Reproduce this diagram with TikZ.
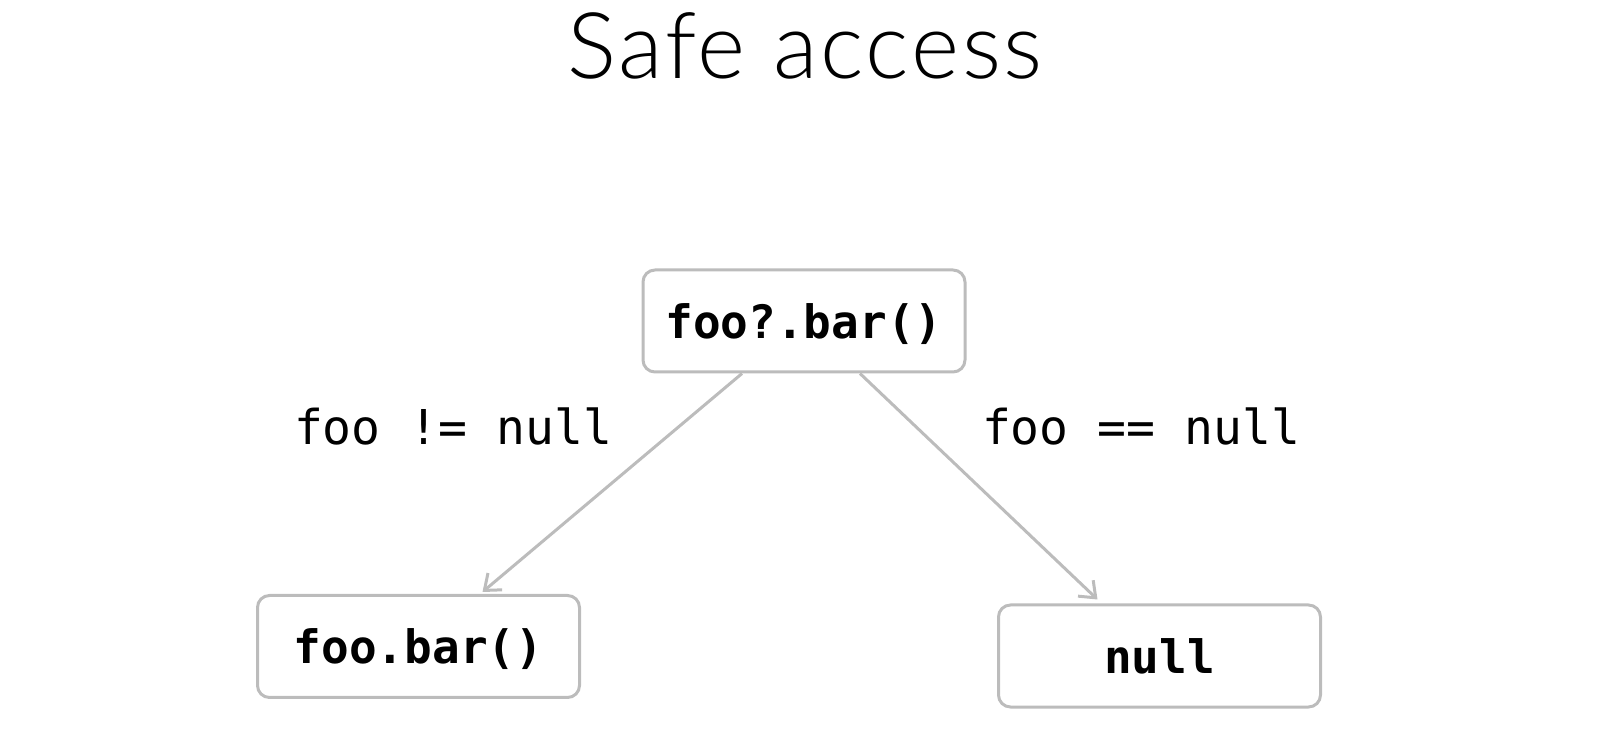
\documentclass[tikz,border=0pt]{standalone}
\usepackage{fontspec}
\setmainfont{Liberation Sans}
\setmonofont{DejaVu Sans Mono}
\newfontfamily\titlefont{Lato Light}[LetterSpace=3]
\usetikzlibrary{arrows.meta}
\definecolor{linegray}{RGB}{188,188,188}
\begin{document}
\begin{tikzpicture}[x=0.5pt,y=-0.5pt,
  codebox/.style={draw=linegray, line width=1.5pt, rounded corners=6pt,
    minimum width=161pt, minimum height=51pt, inner sep=0pt,
    font=\ttfamily\bfseries\fontsize{23}{26}\selectfont},
  lowtext/.style={text height=20.5pt, text depth=3pt},
  cond/.style={inner sep=0pt, font=\ttfamily\fontsize{24}{28}\selectfont},
  arr/.style={draw=linegray, line width=1.5pt, -{Straight Barb[length=7pt,width=11pt,line width=1.5pt]}}]
\path[use as bounding box] (0,0) rectangle (1612,742);
\node[anchor=base, font=\titlefont\fontsize{46}{50}\selectfont] (title) at (805,79) {Safe access};
\node[codebox, lowtext] (top) at (804,321) {foo?.bar()};
\node[codebox, lowtext] (left) at (418.5,646.5) {foo.bar()};
\node[codebox] (right) at (1159.5,656) {null};
\node[cond] (lc) at (453,426) {foo != null};
\node[cond] (rc) at (1141,426) {foo == null};
\draw[arr] ([xshift=-31pt]top.south) -- ([xshift=32pt,yshift=1pt]left.north);
\draw[arr] ([xshift=28pt]top.south) -- ([xshift=-31pt,yshift=2pt]right.north);
\end{tikzpicture}
\end{document}
